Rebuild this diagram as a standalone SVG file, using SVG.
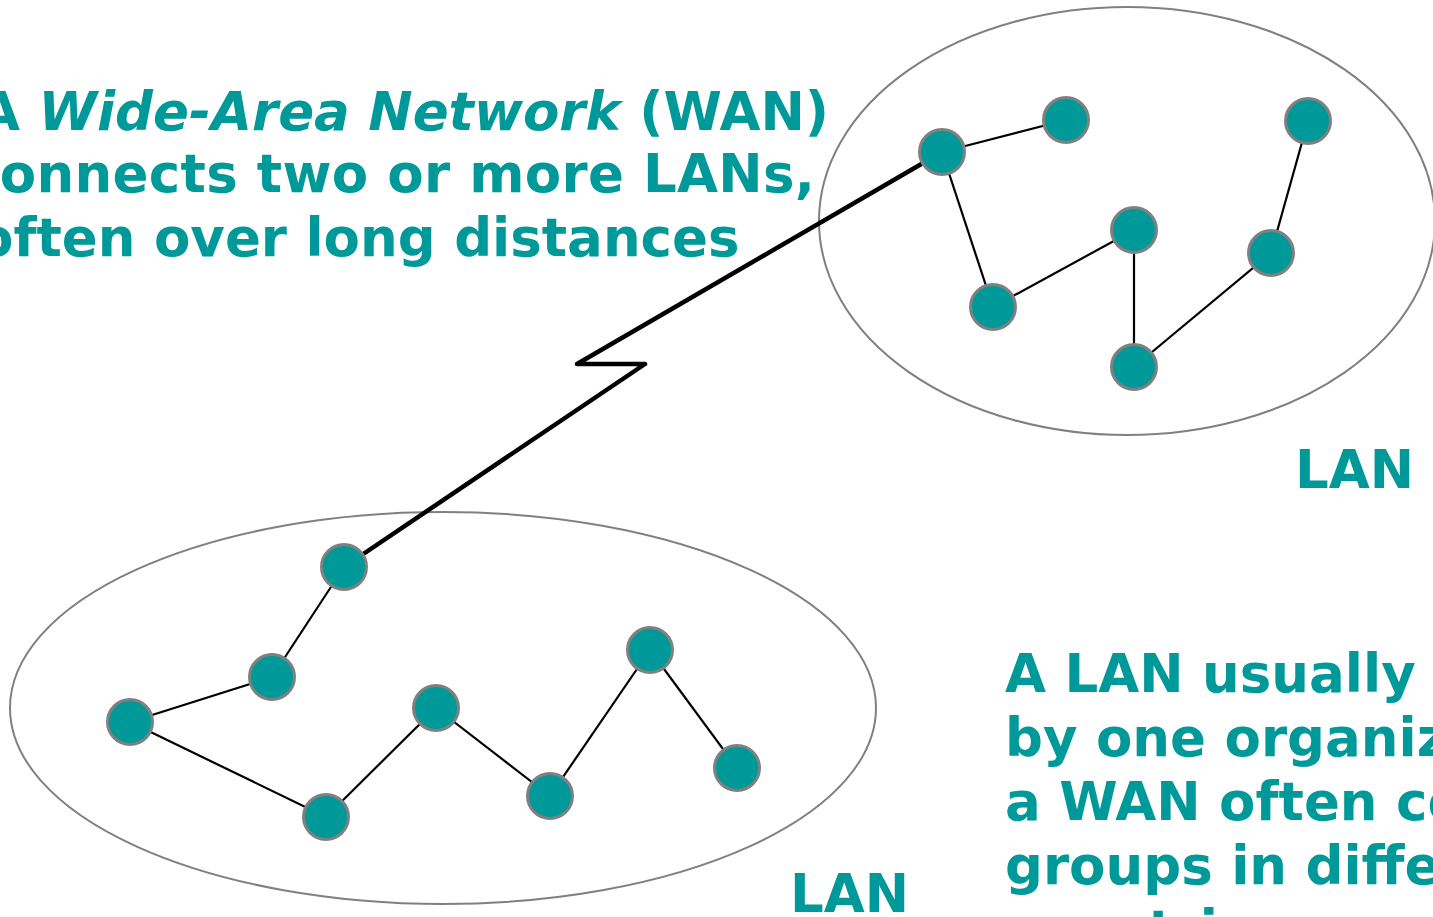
<svg xmlns="http://www.w3.org/2000/svg" width="1433" height="917" viewBox="0 0 1433 917">
  <style>
    .txt { font-family: "DejaVu Sans", "Liberation Sans", sans-serif; font-weight: bold; font-size: 53px; fill: #009999; }
    .em { font-style: italic; }
    .lan { fill: none; stroke: #808080; stroke-width: 2; }
    .node { fill: #009999; stroke: #808080; stroke-width: 3; }
    .link { stroke: #000; stroke-width: 2.2; fill: none; }
    .wan { stroke: #000; stroke-width: 4.5; fill: none; stroke-linejoin: round; stroke-linecap: round; }
  </style>
  <rect width="1433" height="917" fill="#ffffff"/>

  <!-- LAN boundaries -->
  <g id="lan-top">
    <ellipse class="lan" cx="1127" cy="221" rx="308" ry="214"/>
    <text class="txt" x="1295" y="488">LAN</text>
  </g>
  <g id="lan-bottom">
    <ellipse class="lan" cx="443" cy="708" rx="433" ry="196"/>
    <text class="txt" x="790" y="912">LAN</text>
  </g>

  <!-- captions -->
  <g id="caption-wan">
    <text class="txt" x="-21" y="130">A <tspan class="em">Wide-Area Network</tspan> (WAN)</text>
    <text class="txt" x="-32" y="192" textLength="847">connects two or more LANs,</text>
    <text class="txt" x="-23" y="256">often over long distances</text>
  </g>
  <g id="caption-lan">
    <text class="txt" x="1005" y="692">A LAN usually is owned</text>
    <text class="txt" x="1005" y="756">by one organization,</text>
    <text class="txt" x="1005" y="820">a WAN often connects</text>
    <text class="txt" x="1005" y="884">groups in different</text>
    <text class="txt" x="1005" y="948">countries</text>
  </g>

  <!-- connectors -->
  <g id="connectors">
    <polyline class="wan" points="344,567 645,364 577,364 942,152"/>
    <line class="link" x1="942" y1="152" x2="1066" y2="120"/>
    <line class="link" x1="942" y1="152" x2="993" y2="307"/>
    <line class="link" x1="993" y1="307" x2="1134" y2="230"/>
    <line class="link" x1="1134" y1="230" x2="1134" y2="367"/>
    <line class="link" x1="1134" y1="367" x2="1271" y2="253"/>
    <line class="link" x1="1271" y1="253" x2="1308" y2="121"/>
    <line class="link" x1="344" y1="567" x2="272" y2="677"/>
    <line class="link" x1="272" y1="677" x2="130" y2="722"/>
    <line class="link" x1="130" y1="722" x2="326" y2="817"/>
    <line class="link" x1="326" y1="817" x2="436" y2="708"/>
    <line class="link" x1="436" y1="708" x2="550" y2="796"/>
    <line class="link" x1="550" y1="796" x2="650" y2="650"/>
    <line class="link" x1="650" y1="650" x2="737" y2="768"/>
  </g>

  <!-- top LAN hosts -->
  <g id="t1"><circle class="node" cx="942" cy="152" r="22.5"/></g>
  <g id="t2"><circle class="node" cx="1066" cy="120" r="22.5"/></g>
  <g id="t3"><circle class="node" cx="1308" cy="121" r="22.5"/></g>
  <g id="t4"><circle class="node" cx="1134" cy="230" r="22.5"/></g>
  <g id="t5"><circle class="node" cx="1271" cy="253" r="22.5"/></g>
  <g id="t6"><circle class="node" cx="993" cy="307" r="22.5"/></g>
  <g id="t7"><circle class="node" cx="1134" cy="367" r="22.5"/></g>

  <!-- bottom LAN hosts -->
  <g id="b1"><circle class="node" cx="344" cy="567" r="22.5"/></g>
  <g id="b2"><circle class="node" cx="272" cy="677" r="22.5"/></g>
  <g id="b3"><circle class="node" cx="130" cy="722" r="22.5"/></g>
  <g id="b4"><circle class="node" cx="326" cy="817" r="22.5"/></g>
  <g id="b5"><circle class="node" cx="436" cy="708" r="22.5"/></g>
  <g id="b6"><circle class="node" cx="550" cy="796" r="22.5"/></g>
  <g id="b7"><circle class="node" cx="650" cy="650" r="22.5"/></g>
  <g id="b8"><circle class="node" cx="737" cy="768" r="22.5"/></g>
</svg>
